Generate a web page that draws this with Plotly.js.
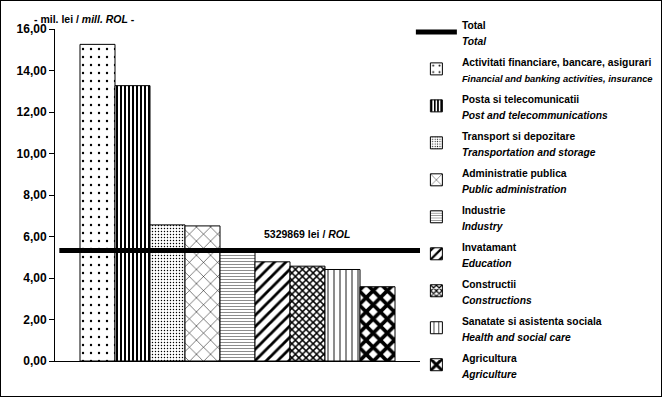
<!DOCTYPE html>
<html><head><meta charset="utf-8">
<script src="https://cdn.plot.ly/plotly-3.0.1.min.js"></script>
<style>body{margin:0;background:#fff}#c{width:660px;height:395px;border:1px solid #000}</style>
</head><body><div id="c"></div>
<script>
const sectorsRo = ["Activitati financiare, bancare, asigurari","Posta si telecomunicatii","Transport si depozitare","Administratie publica","Industrie","Invatamant","Constructii","Sanatate si asistenta sociala","Agricultura"];
const sectorsEn = ["Financial and banking activities, insurance","Post and telecommunications","Transportation and storage","Public administration","Industry","Education","Constructions","Health and social care","Agriculture"];
const values = [15.26, 13.27, 6.56, 6.51, 5.25, 4.78, 4.57, 4.41, 3.58];
const totalValue = 5.329869;
const yTicks = [0,2,4,6,8,10,12,14,16];

const patterns = [
 {shape:'.', size:8, solidity:0.07},
 {shape:'|', size:4, solidity:0.5},
 {shape:'.', size:3, solidity:0.18},
 {shape:'x', size:10, solidity:0.1},
 {shape:'-', size:3, solidity:0.15},
 {shape:'/', size:8, solidity:0.35},
 {shape:'x', size:5, solidity:0.5},
 {shape:'|', size:6, solidity:0.15},
 {shape:'x', size:10, solidity:0.6}
];

const F = 'Liberation Sans, Arial, sans-serif';
function lg(ro, en){
  const enSize = en.length > 40 ? 9.4 : 10.3;
  return '<span style="font-size:10.3px"><b>'+ro+'</b></span><br><span style="font-size:'+enSize+'px"><b><i>'+en+'</i></b></span>';
}
const traces = [{
  type:'scatter', mode:'lines', xaxis:'x2', yaxis:'y',
  x:[0,1], y:[totalValue,totalValue],
  line:{color:'#000', width:5},
  name:lg('Total','Total'), legendgroup:'t'
}];
values.forEach((v,i)=>{
  traces.push({
    type:'bar', x:[''], y:[v],
    name:lg(sectorsRo[i], sectorsEn[i]),
    legendgroup:'g'+i,
    marker:{color:'#fff', line:{color:'#000', width:1},
      pattern:Object.assign({fgcolor:'#000', bgcolor:'#fff', fillmode:'replace'}, patterns[i])}
  });
});

const layout = {
  width:660, height:395,
  margin:{l:54, r:241, t:28, b:35, autoexpand:false},
  paper_bgcolor:'#fff', plot_bgcolor:'#fff',
  separators:',.',
  barmode:'group', bargap:0.137, bargroupgap:0,
  font:{family:F, color:'#000'},
  xaxis:{type:'category', showticklabels:false, ticks:'', showline:true, linecolor:'#000', linewidth:1, showgrid:false, zeroline:false, fixedrange:true},
  xaxis2:{overlaying:'x', range:[-0.012,1], visible:false, fixedrange:true},
  yaxis:{range:[0,16], tickvals:yTicks, tickformat:'.2f', ticks:'outside', ticklen:5, tickcolor:'#000',
    showline:true, linecolor:'#000', showgrid:false, zeroline:false,
    tickfont:{family:F, size:12, weight:'bold'}},
  showlegend:true,
  legend:{x:0.975, xanchor:'left', y:1.059, yanchor:'top', traceorder:'grouped', tracegroupgap:2,
    itemwidth:41, maxheight:600,
    font:{family:F, size:12.3, color:'#000'}, bgcolor:'rgba(0,0,0,0)', valign:'middle'},
  annotations:[
    {xref:'paper', yref:'paper', x:-0.063, y:1, xanchor:'left', yanchor:'bottom', yshift:2, showarrow:false,
     text:'<b>- mil. lei / <i>mill. ROL</i> -</b>', font:{family:F, size:10.5}},
    {xref:'paper', yref:'y', x:0.69, y:totalValue, xanchor:'center', yanchor:'bottom', yshift:8, showarrow:false,
     text:'<b>'+Math.round(totalValue*1e6)+' lei / <i>ROL</i></b>', font:{family:F, size:10.5}}
  ]
};
Plotly.newPlot('c', traces, layout, {displayModeBar:false, staticPlot:true});
</script></body></html>
